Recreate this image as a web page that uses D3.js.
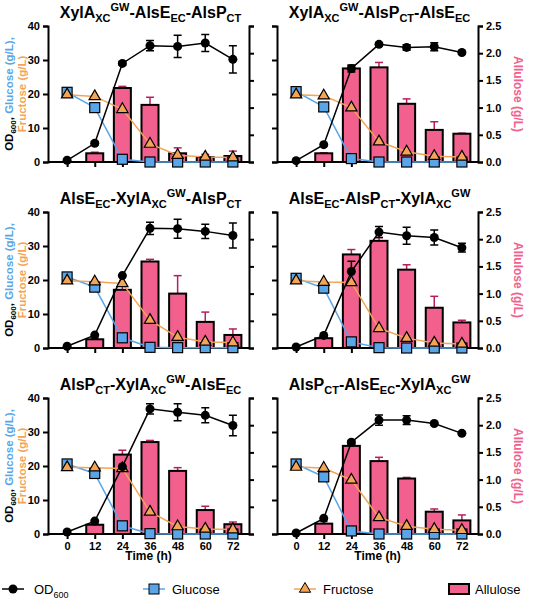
<!DOCTYPE html><html><head><meta charset="utf-8"><script src="https://cdn.jsdelivr.net/npm/d3@7"></script>
<style>body{margin:0;background:#fff}text{font-family:Arial,"Liberation Sans",sans-serif}</style></head><body>
<svg id="c" width="535" height="598"></svg>
<script>
const times=[0,12,24,36,48,60,72];
const titleParts=[
 [["XylA",""],["XC","sub"],["GW","sup"],["-AlsE",""],["EC","sub"],["-AlsP",""],["CT","sub"]],
 [["XylA",""],["XC","sub"],["GW","sup"],["-AlsP",""],["CT","sub"],["-AlsE",""],["EC","sub"]],
 [["AlsE",""],["EC","sub"],["-XylA",""],["XC","sub"],["GW","sup"],["-AlsP",""],["CT","sub"]],
 [["AlsE",""],["EC","sub"],["-AlsP",""],["CT","sub"],["-XylA",""],["XC","sub"],["GW","sup"]],
 [["AlsP",""],["CT","sub"],["-XylA",""],["XC","sub"],["GW","sup"],["-AlsE",""],["EC","sub"]],
 [["AlsP",""],["CT","sub"],["-AlsE",""],["EC","sub"],["-XylA",""],["XC","sub"],["GW","sup"]]
];
const od=[[0.5,5.5,29,34.2,34,35,30.2],[0.4,5.1,27.5,34.6,33.7,33.9,32.2],[0.5,3.8,21.3,35.2,35.1,34.3,33.1],[0.3,3.7,22.5,34.1,33,32.5,29.5],[0.6,3.8,19.8,36.8,35.8,34.9,31.9],[0.3,4.6,27,33.5,33.5,32.5,29.6]];
const odErr=[[0,0.5,0.5,1.5,3.3,2.5,4],[0,0,1,0.5,0.8,1.2,0.4],[0,0,0,1.8,2.8,2.1,3.7],[0,0,3,1.6,2.5,2.2,1.3],[0,0,0,1.5,2.5,2.2,3],[0,0,0.5,1.5,1.3,0.3,0.3]];
const glc=[[20.5,16,0.8,0,0,0,0],[20.7,16.2,1,0,0,0,0],[20.9,17.9,3,0.2,0.1,0.1,0.1],[20.5,17.6,1.8,0.1,0,0,0],[20.6,17.8,2.4,0.1,0,0,0],[20.6,16.8,0.9,0,0,0,0]];
const fru=[[19.8,19.3,15.5,5.3,2,1.5,1.3],[19.8,19.5,16,6,3,1.7,1.5],[19.8,19.5,19,8.2,3.2,1.8,1.6],[19.8,19.4,19.3,5.8,2.9,1.5,1.2],[19.6,19.5,19.3,6.5,2.2,1.5,1.3],[19.7,19.4,15.9,4.9,2.3,1.4,1.1]];
const allulose=[[0.16,1.36,1.05,0.16,0.09,0.11],[0.16,1.72,1.74,1.07,0.59,0.52],[0.16,1.07,1.59,1.0,0.48,0.24],[0.18,1.72,1.97,1.44,0.74,0.47],[0.17,1.46,1.69,1.16,0.44,0.18],[0.19,1.62,1.34,1.02,0.41,0.25]];
const allErr=[[0.02,0.03,0.14,0.1,0.05,0.09],[0.01,0.05,0.09,0.09,0.15,0.01],[0.02,0.08,0.04,0.33,0.18,0.11],[0.02,0.09,0.06,0.09,0.21,0.04],[0.02,0.08,0.03,0.06,0.07,0.04],[0.04,0.02,0.07,0.02,0.05,0.1]];
const barTimes=[12,24,36,48,60,72];
const leftTicks=[0,10,20,30,40], rightTicks=[0,0.5,1,1.5,2,2.5];
const PINK="#f2608e",EPINK="#b51f5e",BLUE="#5aa5e8",ORANGE="#f4a454";
const svg=d3.select("#c");
const cols=[48,277], rows=[26,212,398], W=201, H=136;
function title(g,cx,y,parts){
  const t=g.append("text").attr("x",cx).attr("y",y).attr("text-anchor","middle").attr("font-size",16).attr("font-weight","bold");
  let cur=0;
  parts.forEach(([s,k])=>{const ts=t.append("tspan").text(s);
    if(k)ts.attr("font-size",11);
    const want=k==="sub"?4:k==="sup"?-7:0;ts.attr("dy",want-cur);cur=want;});
}
for(let p=0;p<6;p++){
  const c=p%2,r=Math.floor(p/2),x0=cols[c],y0=rows[r];
  const g=svg.append("g").attr("transform",`translate(${x0},${y0})`);
  const x=d3.scaleLinear().domain([-8.3,79]).range([0,W]);
  const y=d3.scaleLinear().domain([0,40]).range([H,0]);
  const y2=d3.scaleLinear().domain([0,2.5]).range([H,0]);
  title(g,W/2+2,-8,titleParts[p]);
  const la=g.append("g").call(d3.axisLeft(y).tickValues(leftTicks).tickSize(5).tickFormat(c===0?d3.format("d"):""));
  const ra=g.append("g").attr("transform",`translate(${W},0)`).call(d3.axisRight(y2).tickValues(rightTicks).tickSize(5).tickFormat(c===1?d3.format(".1f"):""));
  const xa=g.append("g").attr("transform",`translate(0,${H})`).call(d3.axisBottom(x).tickValues(times).tickSize(5).tickFormat(r===2?d3.format("d"):""));
  [la,ra,xa].forEach(a=>{a.selectAll("path,line").attr("stroke","#000").attr("stroke-width",2);a.selectAll("text").attr("font-size",11).attr("font-weight","bold").attr("fill","#000");});
  xa.select("path").attr("d",`M0,0H${W}`);
  if(r===2) g.append("text").attr("x",W/2).attr("y",H+26).attr("text-anchor","middle").attr("font-size",12).attr("font-weight","bold").text("Time (h)");
  if(c===0){
    const t1=g.append("text").attr("transform",`translate(-35,${H/2}) rotate(-90)`).attr("text-anchor","middle").attr("font-size",11.5).attr("font-weight","bold");
    t1.append("tspan").text("OD");t1.append("tspan").text("600").attr("font-size",8).attr("dy",3);
    t1.append("tspan").text(", ").attr("dy",-3);t1.append("tspan").text("Glucose (g/L),").attr("fill",BLUE);
    g.append("text").attr("transform",`translate(-22,${H/2}) rotate(-90)`).attr("text-anchor","middle").attr("font-size",11.5).attr("font-weight","bold").attr("fill",ORANGE).text("Fructose (g/L)");
  } else {
    g.append("text").attr("transform",`translate(${W+36},${H/2}) rotate(90)`).attr("text-anchor","middle").attr("font-size",12).attr("font-weight","bold").attr("fill",PINK).text("Allulose  (g/L)");
  }
  const bw=17;
  barTimes.forEach((t,i)=>{
    const v=allulose[p][i],e=allErr[p][i];
    g.append("line").attr("x1",x(t)).attr("x2",x(t)).attr("y1",y2(v)).attr("y2",y2(v+e)).attr("stroke",EPINK).attr("stroke-width",1.5);
    g.append("line").attr("x1",x(t)-4).attr("x2",x(t)+4).attr("y1",y2(v+e)).attr("y2",y2(v+e)).attr("stroke",EPINK).attr("stroke-width",1.5);
    g.append("rect").attr("x",x(t)-bw/2).attr("width",bw).attr("y",y2(v)).attr("height",H-y2(v)).attr("fill",PINK).attr("stroke","#000").attr("stroke-width",2);
  });
  const line=d3.line().x((d,i)=>x(times[i])).y(d=>y(d));
  g.append("path").datum(glc[p]).attr("d",line).attr("fill","none").attr("stroke",BLUE).attr("stroke-width",1.5);
  g.append("path").datum(fru[p]).attr("d",line).attr("fill","none").attr("stroke",ORANGE).attr("stroke-width",1.5);
  g.append("path").datum(od[p]).attr("d",line).attr("fill","none").attr("stroke","#000").attr("stroke-width",1.5);
  od[p].forEach((v,i)=>{const e=odErr[p][i];if(e>0){const xx=x(times[i]);
    g.append("path").attr("d",`M${xx},${y(v-e)}V${y(v+e)}M${xx-4},${y(v-e)}H${xx+4}M${xx-4},${y(v+e)}H${xx+4}`).attr("stroke","#000").attr("stroke-width",1.5).attr("fill","none");}});
  glc[p].forEach((v,i)=>g.append("rect").attr("x",x(times[i])-5).attr("y",y(v)-5).attr("width",10).attr("height",10).attr("fill",BLUE).attr("stroke","#000").attr("stroke-width",1.2));
  fru[p].forEach((v,i)=>g.append("path").attr("d",d3.symbol(d3.symbolTriangle,55)()).attr("transform",`translate(${x(times[i])},${y(v)})`).attr("fill",ORANGE).attr("stroke","#000").attr("stroke-width",1.2));
  od[p].forEach((v,i)=>g.append("circle").attr("cx",x(times[i])).attr("cy",y(v)).attr("r",4.5).attr("fill","#000"));
}
const L=svg.append("g").attr("transform","translate(0,589)");
function lt(x,t){return L.append("text").attr("x",x).attr("y",5).attr("font-size",13).text(t);}
L.append("line").attr("x1",2).attr("x2",24).attr("stroke","#000").attr("stroke-width",1.5);L.append("circle").attr("cx",13).attr("r",4.5);
const o=lt(34,"OD");o.append("tspan").text("600").attr("font-size",9).attr("dy",4);
L.append("line").attr("x1",143).attr("x2",165).attr("stroke",BLUE).attr("stroke-width",1.5);L.append("rect").attr("x",149).attr("y",-5).attr("width",10).attr("height",10).attr("fill",BLUE).attr("stroke","#000");
lt(172,"Glucose");
L.append("line").attr("x1",294).attr("x2",316).attr("stroke",ORANGE).attr("stroke-width",1.5);L.append("path").attr("d",d3.symbol(d3.symbolTriangle,55)()).attr("transform","translate(305,0)").attr("fill",ORANGE).attr("stroke","#000");
lt(323,"Fructose");
L.append("rect").attr("x",449).attr("y",-5).attr("width",20).attr("height",10).attr("fill",PINK).attr("stroke","#000").attr("stroke-width",2);
lt(475,"Allulose");
</script></body></html>
